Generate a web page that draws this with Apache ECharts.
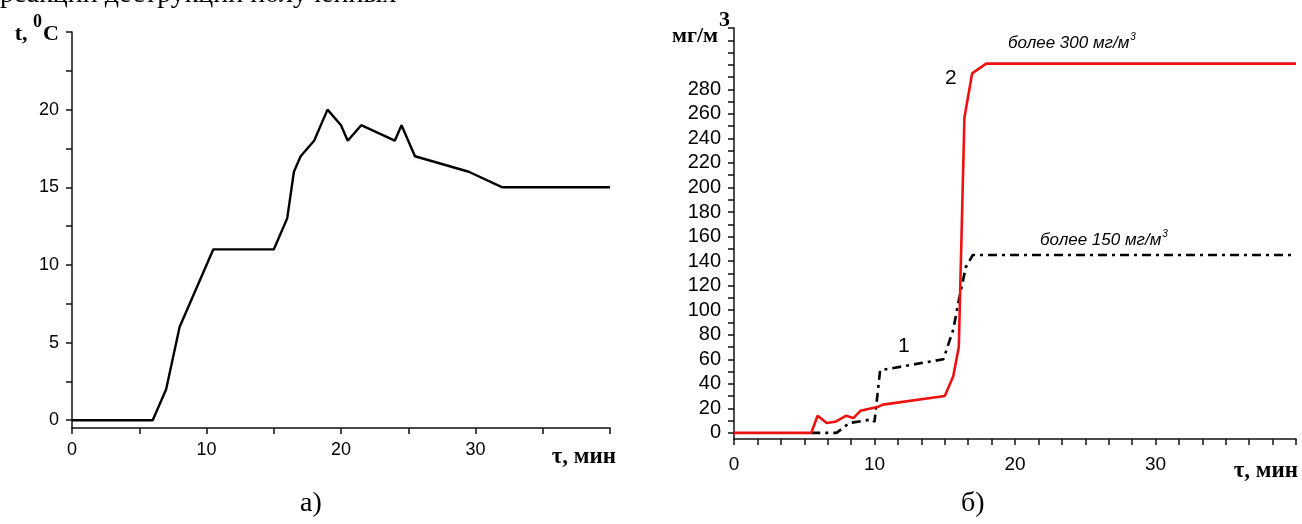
<!DOCTYPE html>
<html>
<head>
<meta charset="utf-8">
<script src="https://cdn.jsdelivr.net/npm/echarts@6/dist/echarts.min.js"></script>
<style>
  html, body { margin: 0; padding: 0; background: #fff; }
  #chart { width: 1302px; height: 524px; }
</style>
</head>
<body>
<div id="chart"></div>
<script>
// (a) temperature vs time
var tempTime = [0, 6, 7, 8, 10.5, 15, 16, 16.5, 17, 18, 19, 20, 20.5, 21.5, 24, 24.5, 25.5, 29.5, 32, 40];
var tempValue = [0, 0, 2, 6, 11, 11, 13, 16, 17, 18, 20, 19, 18, 19, 18, 19, 17, 16, 15, 15];

// (b) concentration, curve 1 (dash-dot) and curve 2 (red)
var conc1Time = [5.5, 7.3, 8.2, 9.8, 10.0, 10.4, 14.9, 15.6, 16.0, 16.5, 17.0, 40];
var conc1Value = [0, 0, 8, 11, 9, 51, 60, 84, 108, 135, 145, 145];
var conc2Time = [0, 5.5, 5.95, 6.6, 7.2, 8.0, 8.5, 9.0, 10.2, 10.6, 15.0, 15.6, 16.0, 16.4, 16.95, 17.95, 40];
var conc2Value = [0, 0, 14, 8, 9, 14, 12, 18, 21, 23, 30, 46, 70, 257, 293, 301, 301];

// tick marks and labels
var tempXTicks = [0, 5, 10, 15, 20, 25, 30, 35, 40];
var tempXLabels = [0, 10, 20, 30];
var tempYTicks = [0, 2.5, 5, 7.5, 10, 12.5, 15, 17.5, 20, 22.5, 25];
var tempYLabels = [0, 5, 10, 15, 20];
var concXTicks = [0, 1.667, 3.333, 5, 6.667, 8.333, 10, 11.667, 13.333, 15, 16.667, 18.333, 20,
    21.667, 23.333, 25, 26.667, 28.333, 30, 31.667, 33.333, 35, 36.667, 38.333, 40];
var concXLabels = [0, 10, 20, 30];
var concYTicks = [0, 10, 20, 30, 40, 50, 60, 70, 80, 90, 100, 110, 120, 130, 140, 150, 160, 170,
    180, 190, 200, 210, 220, 230, 240, 250, 260, 270, 280, 290, 300, 310, 320, 330];
var concYLabels = [0, 20, 40, 60, 80, 100, 120, 140, 160, 180, 200, 220, 240, 260, 280];

function pairs(xs, ys) {
    return xs.map(function (x, i) { return [x, ys[i]]; });
}

var serifBold = 'Liberation Serif';

function makeX(grid, ticks, labels, margin, size) {
    return {
        type: 'value', gridIndex: grid, min: 0, max: 40,
        axisLine: { onZero: false, lineStyle: { color: '#111', width: 1.5 } },
        axisTick: { customValues: ticks, length: 6, lineStyle: { color: '#111', width: 1.5 } },
        axisLabel: { customValues: labels, margin: margin, fontFamily: 'Liberation Sans', fontSize: size, color: '#000' },
        splitLine: { show: false }
    };
}

function makeY(grid, min, max, ticks, labels, size) {
    return {
        type: 'value', gridIndex: grid, min: min, max: max,
        axisLine: { show: true, onZero: false, lineStyle: { color: '#111', width: 1.5 } },
        axisTick: { show: true, customValues: ticks, length: 6, lineStyle: { color: '#111', width: 1.5 } },
        axisLabel: { customValues: labels, margin: 13, fontFamily: 'Liberation Sans', fontSize: size, color: '#000' },
        splitLine: { show: false }
    };
}

var chart = echarts.init(document.getElementById('chart'));

var option = {
    animation: false,
    backgroundColor: '#fff',
    grid: [
        { left: 72, top: 32, width: 538, height: 396 },
        { left: 734, top: 28, width: 562, height: 411 }
    ],
    xAxis: [
        makeX(0, tempXTicks, tempXLabels, 13, 18),
        makeX(1, concXTicks, concXLabels, 16, 19)
    ],
    yAxis: [
        makeY(0, -0.5, 25, tempYTicks, tempYLabels, 18),
        makeY(1, -5, 330, concYTicks, concYLabels, 20)
    ],
    series: [
        {
            type: 'line', xAxisIndex: 0, yAxisIndex: 0,
            data: pairs(tempTime, tempValue),
            showSymbol: false,
            lineStyle: { color: '#000', width: 2.4 }
        },
        {
            type: 'line', xAxisIndex: 1, yAxisIndex: 1,
            data: pairs(conc1Time, conc1Value),
            showSymbol: false,
            lineStyle: { color: '#000', width: 2.6, type: [9, 5, 3, 5] }
        },
        {
            type: 'line', xAxisIndex: 1, yAxisIndex: 1,
            data: pairs(conc2Time, conc2Value),
            showSymbol: false,
            lineStyle: { color: '#f01010', width: 2.6 }
        }
    ],
    graphic: [
        // clipped line of body text above the figure
        { type: 'text', left: 0, top: -19, style: { text: 'реакций деструкции полученных', font: '28px "Liberation Serif"', fill: '#000' } },
        // axis names, chart a
        {
            type: 'text', right: 1302 - 59, top: 13,
            style: {
                text: '{b|t, }{s|0}{b|C}',
                rich: {
                    b: { fontFamily: serifBold, fontWeight: 'bold', fontSize: 22, fill: '#000', verticalAlign: 'bottom' },
                    s: { fontFamily: serifBold, fontWeight: 'bold', fontSize: 18, fill: '#000', padding: [0, 1, 14, 0] }
                }
            }
        },
        { type: 'text', right: 1302 - 616, top: 446, style: { text: 'τ, мин', font: 'bold 23px "Liberation Serif"', fill: '#000' } },
        // axis names, chart b
        {
            type: 'text', right: 1302 - 730, top: 9,
            style: {
                text: '{b|мг/м}{s|3}',
                rich: {
                    b: { fontFamily: serifBold, fontWeight: 'bold', fontSize: 22, fill: '#000', verticalAlign: 'bottom' },
                    s: { fontFamily: serifBold, fontWeight: 'bold', fontSize: 22, fill: '#000', padding: [0, 0, 16, 1] }
                }
            }
        },
        { type: 'text', right: 4, top: 460, style: { text: 'τ, мин', font: 'bold 23px "Liberation Serif"', fill: '#000' } },
        // curve annotations
        {
            type: 'text', left: 1008, top: 32,
            style: {
                text: '{t|более 300 мг/м}{s|3}',
                rich: {
                    t: { fontFamily: 'Liberation Sans', fontStyle: 'italic', fontSize: 17, fill: '#000' },
                    s: { fontFamily: 'Liberation Sans', fontStyle: 'italic', fontSize: 10, fill: '#000', padding: [0, 0, 12, 1] }
                }
            }
        },
        {
            type: 'text', left: 1040, top: 229,
            style: {
                text: '{t|более 150 мг/м}{s|3}',
                rich: {
                    t: { fontFamily: 'Liberation Sans', fontStyle: 'italic', fontSize: 17, fill: '#000' },
                    s: { fontFamily: 'Liberation Sans', fontStyle: 'italic', fontSize: 10, fill: '#000', padding: [0, 0, 12, 1] }
                }
            }
        },
        { type: 'text', left: 898, top: 336, style: { text: '1', font: '21px "Liberation Sans"', fill: '#000' } },
        { type: 'text', left: 945, top: 68, style: { text: '2', font: '21px "Liberation Sans"', fill: '#000' } },
        // panel captions
        { type: 'text', left: 300, top: 490, style: { text: 'а)', font: '28px "Liberation Serif"', fill: '#000' } },
        { type: 'text', left: 961, top: 490, style: { text: 'б)', font: '28px "Liberation Serif"', fill: '#000' } }
    ]
};

chart.setOption(option);
</script>
</body>
</html>
